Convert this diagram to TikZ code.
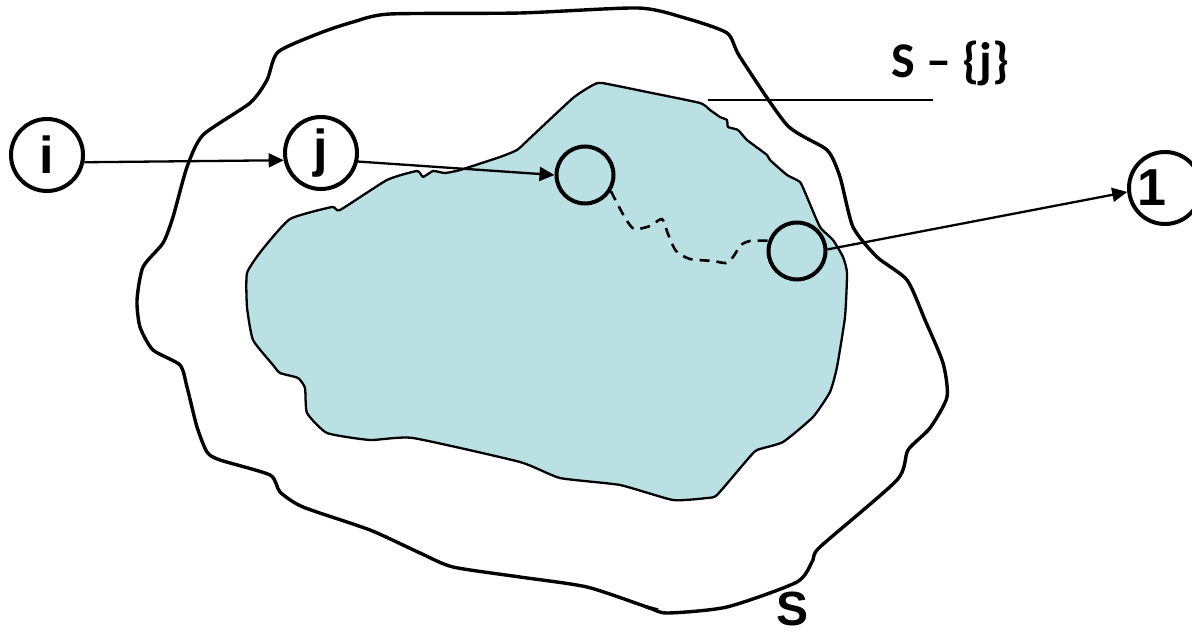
\documentclass[tikz,border=0pt]{standalone}
\usepackage{fontspec}
\setmainfont{Liberation Sans}
\newfontfamily\calib{Carlito}
\usetikzlibrary{arrows.meta}
\definecolor{blobfill}{RGB}{186,224,228}
\begin{document}
\begin{tikzpicture}[x=1pt,y=-1pt,
  outerline/.style={line width=3.4pt,line join=round},
  innerblob/.style={fill=blobfill,draw=black,line width=2.3pt,line join=round},
  circnode/.style={circle,draw=black,line width=4pt,inner sep=0pt,minimum size=72pt,font=\fontsize{52}{54}\selectfont\bfseries},
  smallnode/.style={circle,draw=black,line width=4pt,inner sep=0pt,minimum size=57pt},
  lbl/.style={inner sep=0pt,font=\fontsize{50}{52}\selectfont\bfseries},
  arr/.style={line width=2.3pt,-{Triangle[length=15pt,width=14pt]}},
  pathdash/.style={line width=2.6pt,dash pattern=on 10pt off 7pt},
  leader/.style={line width=2.3pt}]
\useasboundingbox (0,0) rectangle (1192,636);

% outer region S
\draw[outerline] plot[smooth cycle,tension=0.4] coordinates {
(278,52) (320,33) (353,22) (390,14) (520,13) (638,8) (685,18) (727,33) (740,57)
(787,125) (827,150) (840,177) (853,227) (877,257) (907,280) (925,320) (943,363)
(947,397) (930,428) (908,450) (897,480) (820,547) (813,560) (797,582) (727,607)
(667,613) (647,607) (587,587) (520,577) (453,567) (420,553) (370,530) (303,507)
(280,492) (270,475) (220,460) (207,452) (197,427) (187,387) (180,365) (153,350)
(140,327) (137,300) (143,267) (163,243) (173,217) (187,167) (203,135) (250,103)
(267,80)};
\draw[line width=3.4pt] (646,607) -- (658,610);

% inner region S - {j}
\draw[innerblob] plot[smooth cycle,tension=0.3] coordinates {
(602,83) (647,92) (700,103) (710,110) (720,117) (727,120) (728,127) (738,130)
(747,140) (767,155) (770,160) (787,175) (800,182) (807,197) (820,227) (833,240)
(843,257) (847,273) (845,317) (837,367) (830,392) (813,417) (783,442) (757,450)
(747,460) (717,495) (707,498) (673,500) (620,485) (560,478) (520,462) (413,438)
(370,440) (327,433) (307,413) (305,388) (298,378) (280,373) (273,365) (253,340)
(247,307) (247,273) (262,250) (290,219) (332,207) (340,210) (387,180) (417,171)
(423,177) (433,171) (445,173) (460,170) (500,157) (517,150) (528,140) (573,98)
(593,85)};

% label S - {j} with leader
\coordinate (ldA) at (708,100);
\coordinate (ldB) at (933,100);
\draw[leader] (ldA) -- (ldB);
\node[inner sep=0pt,anchor=base west,font=\calib\fontsize{50}{52}\selectfont\bfseries] (sj) at (891,78) {S – \{j\}};

% label S
\node[lbl,anchor=base west,font=\fontsize{48}{50}\selectfont\bfseries] (slabel) at (776,625) {S};

% nodes
\node[circnode] (i) at (47,155) {i};
\node[circnode] (j) at (321,153) {j};
\node[smallnode] (a) at (585,175) {};
\node[smallnode] (b) at (797,251) {};
\node[circnode] (n1) at (1165,188) {};
\node[lbl,font=\fontsize{52}{54}\selectfont\bfseries] (n1t) at (1152,188) {1};

% connectors
\draw[arr] (i.-11) -- (j.191);
\draw[arr] (j.-13) -- (a.180);
\draw[arr] (b.3) -- (n1.186);
\draw[pathdash] plot[smooth,tension=0.4] coordinates {
(a.-32) (624,216) (634,229) (650,226) (662,219) (668,234) (676,251) (690,259)
(713,261) (726,263) (733,257) (741,245) (750,241) (b.160)};
\end{tikzpicture}
\end{document}
